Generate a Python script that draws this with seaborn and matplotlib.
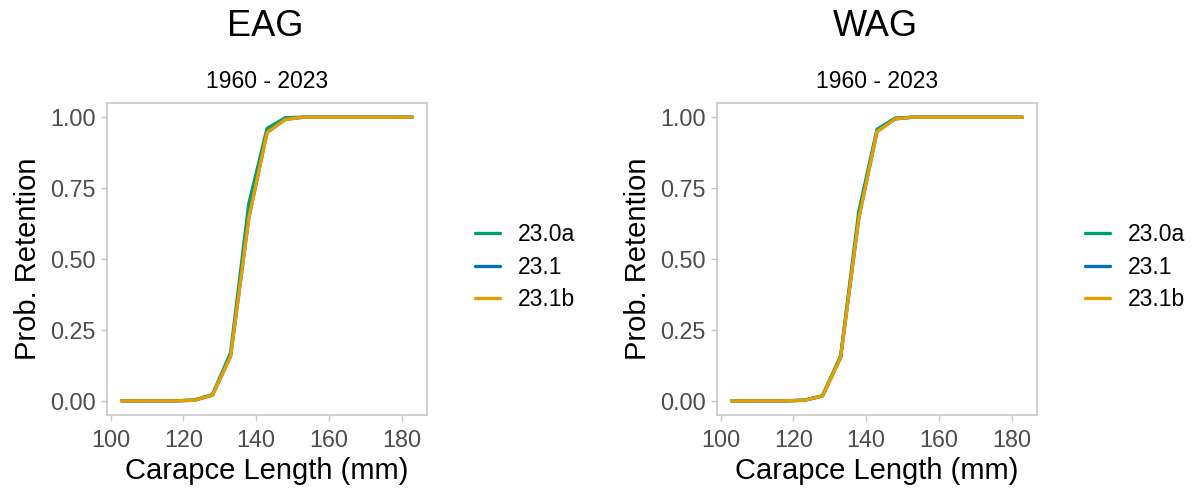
import numpy as np
import pandas as pd
import seaborn as sns
import matplotlib.pyplot as plt

# Data
length = [103, 108, 113, 118, 123, 128, 133, 138, 143, 148, 153, 158, 163, 168, 173, 178, 183]
eag_230a = [0, 0, 0, 0, 0.003, 0.022, 0.170, 0.695, 0.960, 0.998, 1, 1, 1, 1, 1, 1, 1]
eag_231 = [0, 0, 0, 0, 0.002, 0.020, 0.158, 0.645, 0.946, 0.992, 1, 1, 1, 1, 1, 1, 1]
eag_231b = [0, 0, 0, 0, 0.002, 0.020, 0.158, 0.645, 0.946, 0.992, 1, 1, 1, 1, 1, 1, 1]
wag_230a = [0, 0, 0, 0, 0.002, 0.018, 0.158, 0.668, 0.957, 0.997, 1, 1, 1, 1, 1, 1, 1]
wag_231 = [0, 0, 0, 0, 0.002, 0.017, 0.153, 0.645, 0.949, 0.994, 1, 1, 1, 1, 1, 1, 1]
wag_231b = [0, 0, 0, 0, 0.002, 0.017, 0.153, 0.645, 0.949, 0.994, 1, 1, 1, 1, 1, 1, 1]
models = ['23.0a', '23.1', '23.1b']
colors = ['#009E73', '#0072B2', '#E69F00']

panels = {
    'EAG': [eag_230a, eag_231, eag_231b],
    'WAG': [wag_230a, wag_231, wag_231b],
}

sns.set_style('white')
plt.rcParams['font.family'] = ['Liberation Sans', 'DejaVu Sans']
plt.rcParams['text.color'] = 'black'
plt.rcParams['axes.labelcolor'] = 'black'

fig = plt.figure(figsize=(11.98, 4.92), dpi=100)
W, H = 1198, 492
lefts = [107, 717]

for left, (name, series) in zip(lefts, panels.items()):
    rows = []
    for m, vals in zip(models, series):
        for x, y in zip(length, vals):
            rows.append({'Length': x, 'Retention': y, 'Model': m})
    df = pd.DataFrame(rows)

    ax = fig.add_axes([left / W, 1 - 415 / H, 320 / W, 312 / H])
    sns.lineplot(data=df, x='Length', y='Retention', hue='Model', hue_order=models,
                 palette=colors, linewidth=2.4, ax=ax)
    ax.set_xlim(99, 187)
    ax.set_ylim(-0.05, 1.05)
    ax.set_xticks([100, 120, 140, 160, 180])
    ax.set_yticks([0, 0.25, 0.5, 0.75, 1.0])
    ax.set_yticklabels(['0.00', '0.25', '0.50', '0.75', '1.00'])
    for s in ax.spines.values():
        s.set_color('#C4C4C4')
        s.set_linewidth(1.1)
    ax.tick_params(axis='both', which='both', length=4, width=1, color='#C4C4C4',
                   labelsize=16.8, labelcolor='#4D4D4D', pad=4, direction='out',
                   bottom=True, left=True)
    ax.tick_params(axis='x', pad=6)
    ax.set_xlabel('Carapce Length (mm)', fontsize=21, labelpad=4)
    ax.set_ylabel('Prob. Retention', fontsize=21, labelpad=6)
    ax.set_title('1960 - 2023', fontsize=16.5, pad=11)
    fig.text((left + 158) / W, 1 - 27 / H, name, fontsize=26, ha='center', va='center')

    leg = ax.legend(title=None, frameon=False, fontsize=16.5, loc='center left',
                    bbox_to_anchor=(1.085, 0.474), handlelength=1.1, handletextpad=0.8,
                    labelspacing=0.4)
    for line in leg.get_lines():
        line.set_linewidth(2.4)

fig.savefig('out.png', dpi=100)
